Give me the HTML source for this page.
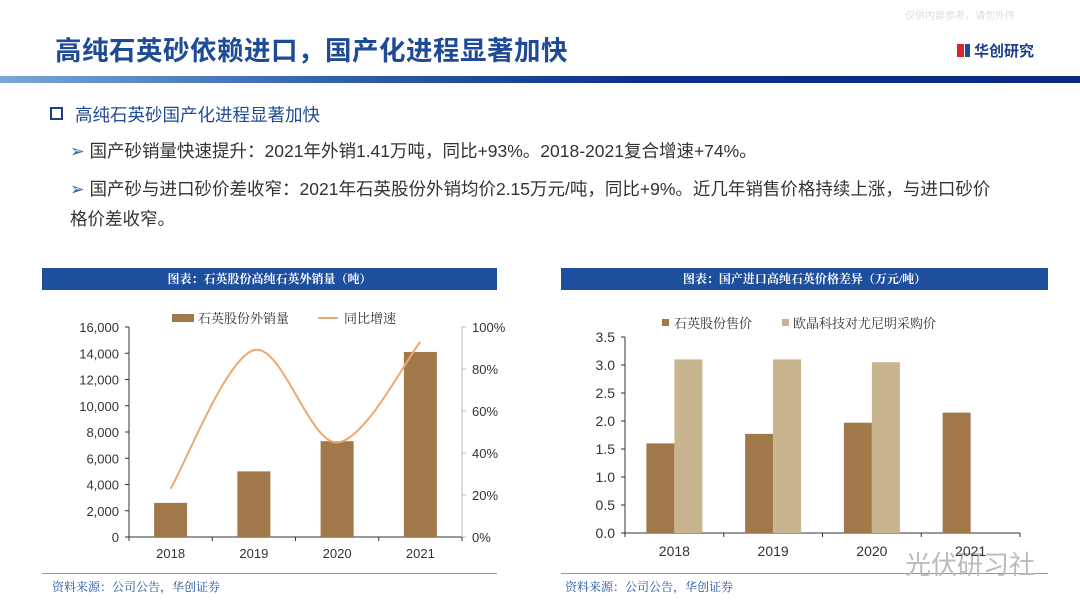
<!DOCTYPE html>
<html><head><meta charset="utf-8">
<style>
body{margin:0;width:1080px;height:608px;background:#fff;overflow:hidden;font-family:"Liberation Sans","Noto Sans CJK SC",sans-serif;position:relative}
.abs{position:absolute}
.title{left:55px;top:29px;font-size:26.5px;font-weight:bold;color:#1f4a96;letter-spacing:0.5px}
.band{left:0;top:76px;width:1080px;height:7px;background:linear-gradient(90deg,#7aa7d6 0%,#2f63ad 30%,#0d2f86 60%,#0b2a80 100%)}
.sec{left:50px;top:102px;font-size:17.5px;color:#1f4a96}
.bul{font-size:17.5px;color:#333;white-space:nowrap}
.hdr{height:22px;background:#1e4f9e;color:#fff;font-size:12px;text-align:center;line-height:22px;font-family:"Liberation Serif","Noto Serif CJK SC",serif;font-weight:bold}
.src{font-size:12px;color:#1e4f9e;font-family:"Liberation Serif","Noto Serif CJK SC",serif}
</style></head><body>
<div class="abs" style="left:905px;top:7px;font-size:10px;color:#ddd">仅供内部参考，请勿外传</div>
<div class="abs title">高纯石英砂依赖进口，国产化进程显著加快</div>
<div class="abs" style="left:957px;top:40px;display:flex;align-items:center;font-size:15px;font-weight:bold;color:#1f3f8a"><span style="display:inline-block;width:7px;height:13px;background:#d8262c;margin-right:1px"></span><span style="display:inline-block;width:5px;height:13px;background:#1f4a96;margin-right:4px"></span>华创研究</div>
<div class="abs band"></div>
<div class="abs sec"><span style="display:inline-block;width:9px;height:9px;border:2px solid #1f3f8a;margin-right:12px;vertical-align:1px"></span>高纯石英砂国产化进程显著加快</div>
<div class="abs bul" style="left:70px;top:138px"><span style="color:#2f63ad">➢</span> 国产砂销量快速提升：2021年外销1.41万吨，同比+93%。2018-2021复合增速+74%。</div>
<div class="abs bul" style="left:70px;top:174px;line-height:30px"><span style="color:#2f63ad">➢</span> 国产砂与进口砂价差收窄：2021年石英股份外销均价2.15万元/吨，同比+9%。近几年销售价格持续上涨，与进口砂价<br>格价差收窄。</div>

<div class="abs hdr" style="left:42px;top:268px;width:455px">图表：石英股份高纯石英外销量（吨）</div>
<div class="abs hdr" style="left:561px;top:268px;width:487px">图表：国产进口高纯石英价格差异（万元/吨）</div>
<div class="abs" style="left:42px;top:573px;width:455px;height:1px;background:#7a9cc8"></div>
<div class="abs" style="left:561px;top:573px;width:487px;height:1px;background:#7a9cc8"></div>
<div class="abs src" style="left:52px;top:578px">资料来源：公司公告，华创证券</div>
<div class="abs src" style="left:565px;top:578px">资料来源：公司公告，华创证券</div>
<div class="abs" style="left:905px;top:545px;font-size:26px;color:#bbb">光伏研习社</div>

<svg class="abs" style="left:0;top:0" width="1080" height="608" id="svg"></svg>
<script>
const years=["2018","2019","2020","2021"];
const sales=[2600,5000,7300,14100];
const growth=[23,89,45,93];
const leftTicks=["0","2,000","4,000","6,000","8,000","10,000","12,000","14,000","16,000"];
const rightTicks=["0%","20%","40%","60%","80%","100%"];
const priceQ=[1.6,1.77,1.97,2.15];
const priceO=[3.1,3.1,3.05,null];
const priceTicks=["0.0","0.5","1.0","1.5","2.0","2.5","3.0","3.5"];

const svg=document.getElementById('svg');const NS="http://www.w3.org/2000/svg";
function mk(t,a,txt){const e=document.createElementNS(NS,t);for(const k in a)e.setAttribute(k,a[k]);if(txt!=null)e.textContent=txt;svg.appendChild(e);return e;}
const F='"Liberation Sans","Noto Sans CJK SC",sans-serif', FS='"Liberation Serif","Noto Serif CJK SC",serif';
const L={x0:129,x1:462,y0:537,y1:327};
const ly=v=>L.y0-(v/16000)*(L.y0-L.y1);
const ry=v=>L.y0-(v/100)*(L.y0-L.y1);
const cw=(L.x1-L.x0)/years.length;
const lx=i=>L.x0+cw*(i+0.5);
let e;
e=mk('line',{x1:L.x0,y1:L.y1,x2:L.x0,y2:L.y0,stroke:'#333'});
e=mk('line',{x1:L.x0,y1:L.y0,x2:L.x1,y2:L.y0,stroke:'#333'});
e=mk('line',{x1:L.x1,y1:L.y1,x2:L.x1,y2:L.y0,stroke:'#bbb'});
leftTicks.forEach((t,i)=>{const y=ly(i*2000);mk('line',{x1:L.x0-4,y1:y,x2:L.x0,y2:y,stroke:'#333'});
 e=mk('text',{x:L.x0-10,y:y+5,'text-anchor':'end','font-size':13,fill:'#333','font-family':F},t);});
rightTicks.forEach((t,i)=>{const y=ry(i*20);mk('line',{x1:L.x1,y1:y,x2:L.x1+4,y2:y,stroke:'#bbb'});
 e=mk('text',{x:L.x1+10,y:y+5,'font-size':13,fill:'#333','font-family':F},t);});
for(let i=0;i<=years.length;i++)mk('line',{x1:L.x0+cw*i,y1:L.y0,x2:L.x0+cw*i,y2:L.y0+4,stroke:'#333'});
years.forEach((yr,i)=>{
 e=mk('rect',{x:lx(i)-16.5,y:ly(sales[i]),width:33,height:L.y0-ly(sales[i]),fill:'#a0784a'});
 e=mk('text',{x:lx(i),y:558,'text-anchor':'middle','font-size':13,fill:'#333','font-family':F},yr);
});
const pts=growth.map((g,i)=>[lx(i),ry(g)]);
let d='M'+pts[0][0]+','+pts[0][1];
for(let i=0;i<pts.length-1;i++){const p0=pts[i-1]||pts[i],p1=pts[i],p2=pts[i+1],p3=pts[i+2]||p2;
 d+=` C${p1[0]+(p2[0]-p0[0])/6},${p1[1]+(p2[1]-p0[1])/6} ${p2[0]-(p3[0]-p1[0])/6},${p2[1]-(p3[1]-p1[1])/6} ${p2[0]},${p2[1]}`;}
e=mk('path',{d:d,fill:'none',stroke:'#eda870','stroke-width':2});
e=mk('rect',{x:172,y:314,width:22,height:8,fill:'#a0784a'});
e=mk('text',{x:198,y:323,'font-size':13,fill:'#333','font-family':FS},'石英股份外销量');
e=mk('line',{x1:318,y1:318,x2:338,y2:318,stroke:'#eda870','stroke-width':2});
e=mk('text',{x:344,y:323,'font-size':13,fill:'#333','font-family':FS},'同比增速');
const R={x0:625,x1:1020,y0:533,y1:337};
const py=v=>R.y0-(v/3.5)*(R.y0-R.y1);
const rcw=(R.x1-R.x0)/years.length;
const px=i=>R.x0+rcw*(i+0.5);
e=mk('line',{x1:R.x0,y1:R.y1,x2:R.x0,y2:R.y0,stroke:'#333'});
e=mk('line',{x1:R.x0,y1:R.y0,x2:R.x1,y2:R.y0,stroke:'#333'});
priceTicks.forEach((t,i)=>{const y=py(i*0.5);mk('line',{x1:R.x0-4,y1:y,x2:R.x0,y2:y,stroke:'#333'});
 e=mk('text',{x:R.x0-10,y:y+5,'text-anchor':'end','font-size':14,fill:'#333','font-family':F},t);});
for(let i=0;i<=years.length;i++)mk('line',{x1:R.x0+rcw*i,y1:R.y0,x2:R.x0+rcw*i,y2:R.y0+4,stroke:'#333'});
years.forEach((yr,i)=>{
 e=mk('rect',{x:px(i)-28,y:py(priceQ[i]),width:28,height:R.y0-py(priceQ[i]),fill:'#a0784a'});
 if(priceO[i]!=null){e=mk('rect',{x:px(i),y:py(priceO[i]),width:28,height:R.y0-py(priceO[i]),fill:'#c8b48e'});}
 e=mk('text',{x:px(i),y:556,'text-anchor':'middle','font-size':14,fill:'#333','font-family':F},yr);
});
e=mk('rect',{x:662,y:319,width:7,height:7,fill:'#a0784a'});
e=mk('text',{x:674,y:328,'font-size':13,fill:'#333','font-family':FS},'石英股份售价');
e=mk('rect',{x:782,y:319,width:7,height:7,fill:'#c8b48e'});
e=mk('text',{x:793,y:328,'font-size':13,fill:'#333','font-family':FS},'欧晶科技对尤尼明采购价');
</script>
</body></html>
